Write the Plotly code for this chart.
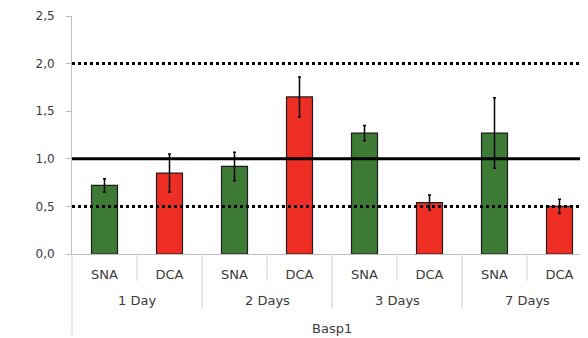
import plotly.graph_objects as go

groups = ["1 Day", "2 Days", "3 Days", "7 Days"]
treatments = ["SNA", "DCA"]
sna_values = [0.72, 0.92, 1.27, 1.27]
sna_errors = [0.07, 0.15, 0.08, 0.37]
dca_values = [0.85, 1.65, 0.54, 0.50]
dca_errors = [0.20, 0.21, 0.08, 0.075]
dotted_levels = [2.0, 0.5]
solid_levels = [1.0]
y_ticks = [0.0, 0.5, 1.0, 1.5, 2.0, 2.5]
x_title = "Basp1"

GREEN = "#3C7A36"
RED = "#EE2E24"
TEXT = "#3A3A3A"
AXIS = "#BFBFBF"
FONT = "DejaVu Sans"

n = len(groups)
sna_x = [2 * i for i in range(n)]
dca_x = [2 * i + 1 for i in range(n)]

fig = go.Figure()
fig.add_trace(go.Bar(
    x=sna_x, y=sna_values, width=0.4, name="SNA",
    marker=dict(color=GREEN, line=dict(color="#1E1E1E", width=1.2)),
    error_y=dict(type="data", array=sna_errors, color="black", thickness=1.5, width=1.5),
))
fig.add_trace(go.Bar(
    x=dca_x, y=dca_values, width=0.4, name="DCA",
    marker=dict(color=RED, line=dict(color="#1E1E1E", width=1.2)),
    error_y=dict(type="data", array=dca_errors, color="black", thickness=1.5, width=1.5),
))

shapes = []
for lv in dotted_levels:
    shapes.append(dict(type="line", xref="paper", yref="y", x0=0, x1=1, y0=lv, y1=lv,
                       line=dict(color="black", width=3, dash="dot"), layer="above"))
for lv in solid_levels:
    shapes.append(dict(type="line", xref="paper", yref="y", x0=0, x1=1, y0=lv, y1=lv,
                       line=dict(color="black", width=3), layer="above"))

# category dividers below the axis
for i in range(n):
    xs = 2 * i + 0.5
    shapes.append(dict(type="line", xref="x", yref="paper", x0=xs, x1=xs, y0=0, y1=-0.112,
                       line=dict(color="#D0D0D0", width=1)))
for i in range(1, n):
    xs = 2 * i - 0.5
    shapes.append(dict(type="line", xref="x", yref="paper", x0=xs, x1=xs, y0=0, y1=-0.228,
                       line=dict(color="#D0D0D0", width=1)))
shapes.append(dict(type="line", xref="paper", yref="paper", x0=0, x1=0, y0=0, y1=-0.34,
                   line=dict(color="#D0D0D0", width=1)))

annotations = []
for i, g in enumerate(groups):
    annotations.append(dict(x=2 * i + 0.5, xref="x", y=-0.197, yref="paper", text=g,
                            showarrow=False, yanchor="middle",
                            font=dict(family=FONT, size=13, color=TEXT)))
annotations.append(dict(x=3.5, xref="x", y=-0.311, yref="paper", text=x_title,
                        showarrow=False, yanchor="middle",
                        font=dict(family=FONT, size=13, color=TEXT)))

# the page body has an 8px margin, so the figure is 8px smaller than the window
fig.update_layout(
    width=580, height=330,
    margin=dict(l=64, r=0, t=8, b=84),
    paper_bgcolor="white", plot_bgcolor="white",
    showlegend=False,
    separators=", ",
    shapes=shapes, annotations=annotations,
    font=dict(family=FONT, size=12, color=TEXT),
    xaxis=dict(
        range=[-0.5, -0.5 + 516 / 65],
        tickvals=sna_x + dca_x,
        ticktext=[treatments[0]] * n + [treatments[1]] * n,
        ticks="", showgrid=False, zeroline=False,
        showline=True, linecolor=AXIS, linewidth=1,
        ticklabelstandoff=8,
        tickfont=dict(family=FONT, size=13, color=TEXT),
    ),
    yaxis=dict(
        range=[0, 2.5], tickvals=y_ticks, tickformat=".1f",
        showgrid=False, zeroline=False,
        showline=True, linecolor=AXIS, linewidth=1,
        ticks="outside", ticklen=5, tickcolor=AXIS,
        ticklabelstandoff=9,
        tickfont=dict(family=FONT, size=12, color=TEXT),
    ),
)

fig.write_html("out.html")
